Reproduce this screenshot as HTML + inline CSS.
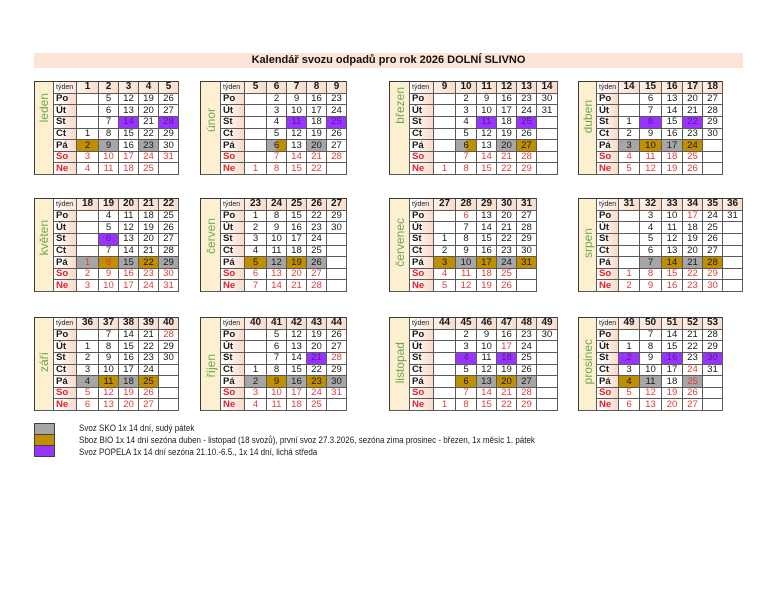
<!DOCTYPE html>
<html><head><meta charset="utf-8">
<style>
body{margin:0;width:765px;height:590px;background:#fff;position:relative;overflow:hidden;font-family:"Liberation Sans",sans-serif;}
.title{position:absolute;left:34px;top:53px;width:709px;height:15px;background:#fce4d6;font-weight:bold;font-size:11px;text-align:center;line-height:15px;color:#111;}
.blk{position:absolute;display:grid;grid-template-rows:repeat(8,11.625px);border-left:1px solid #3a3a3a;border-top:1px solid #3a3a3a;}
.blk>i{font-style:normal;box-sizing:border-box;border-right:1px solid #5a5a5a;border-bottom:1px solid #5a5a5a;display:flex;align-items:center;justify-content:center;font-size:9.6px;line-height:1;color:#1a1a1a;background:#fff;overflow:hidden;white-space:nowrap;}
.blk>i.m{grid-row:1/9;grid-column:1;background:#fdf0d0;}
.m span{writing-mode:vertical-rl;transform:rotate(180deg);color:#6aa84f;font-size:12px;}
.blk>i.t{font-size:7px;justify-content:flex-start;padding-left:2px;background:linear-gradient(90deg,#fff,#fbe3d5);}
.blk>i.h{font-weight:bold;font-size:10px;background:linear-gradient(90deg,#fdf0e8,#f9dccb);}
.blk>i.d{font-weight:bold;font-size:9.6px;justify-content:flex-start;padding-left:2px;background:linear-gradient(90deg,#fff 15%,#f9d9c7);}
.blk>i.r{color:#e03c3c;}
.blk>i.d.r{color:#e8202a;}
.blk>i.g{background:#a6a6a6;}
.blk>i.o{background:#bf8f00;}
.blk>i.p{background:#9933ff;color:#5a1a9a;}
.blk>i.gp{background:linear-gradient(90deg,#a6a6a6 50%,#bf8f00 50%);}
.c1{left:34px;grid-template-columns:19px 23px 22px 20px 20px 20px 20px}
.c2{left:200px;grid-template-columns:20px 24px 22px 20px 20px 20px 20px}
.c3{left:389px;grid-template-columns:20px 24px 22px 21px 20px 20px 20px}
.c3.w6{grid-template-columns:20px 24px 22px 21px 20px 20px 20px 21px}
.c4{left:578px;grid-template-columns:18px 22px 21px 22px 21px 20px 20px}
.c4.w6{grid-template-columns:18px 22px 21px 22px 21px 20px 20px 20px}
.sw{position:absolute;left:34px;width:21px;height:12px;box-sizing:border-box;border:1px solid #404040;}
.lg{position:absolute;left:79px;font-size:9px;line-height:11px;color:#1a1a1a;white-space:nowrap;transform:scaleX(0.89);transform-origin:0 0;}
</style></head><body>
<div class="title">Kalendář svozu odpadů pro rok 2026 DOLNÍ SLIVNO</div>

<!-- ROW 1 -->
<div class="blk c1" style="top:81px">
<i class="m" style="padding-bottom:40px"><span>leden</span></i>
<i class="t">týden</i><i class="h">1</i><i class="h">2</i><i class="h">3</i><i class="h">4</i><i class="h">5</i>
<i class="d">Po</i><i></i><i>5</i><i>12</i><i>19</i><i>26</i>
<i class="d">Út</i><i></i><i>6</i><i>13</i><i>20</i><i>27</i>
<i class="d">St</i><i></i><i>7</i><i class="p">14</i><i>21</i><i class="p">28</i>
<i class="d">Čt</i><i>1</i><i>8</i><i>15</i><i>22</i><i>29</i>
<i class="d">Pá</i><i class="o">2</i><i class="g">9</i><i>16</i><i class="g">23</i><i>30</i>
<i class="d r">So</i><i class="r">3</i><i class="r">10</i><i class="r">17</i><i class="r">24</i><i class="r">31</i>
<i class="d r">Ne</i><i class="r">4</i><i class="r">11</i><i class="r">18</i><i class="r">25</i><i></i>
</div>

<div class="blk c2" style="top:81px">
<i class="m" style="padding-bottom:16px"><span>únor</span></i>
<i class="t">týden</i><i class="h">5</i><i class="h">6</i><i class="h">7</i><i class="h">8</i><i class="h">9</i>
<i class="d">Po</i><i></i><i>2</i><i>9</i><i>16</i><i>23</i>
<i class="d">Út</i><i></i><i>3</i><i>10</i><i>17</i><i>24</i>
<i class="d">St</i><i></i><i>4</i><i class="p">11</i><i>18</i><i class="p">25</i>
<i class="d">Čt</i><i></i><i>5</i><i>12</i><i>19</i><i>26</i>
<i class="d">Pá</i><i></i><i class="gp">6</i><i>13</i><i class="g">20</i><i>27</i>
<i class="d r">So</i><i></i><i class="r">7</i><i class="r">14</i><i class="r">21</i><i class="r">28</i>
<i class="d r">Ne</i><i class="r">1</i><i class="r">8</i><i class="r">15</i><i class="r">22</i><i></i>
</div>

<div class="blk c3 w6" style="top:81px">
<i class="m" style="padding-bottom:46px"><span>březen</span></i>
<i class="t">týden</i><i class="h">9</i><i class="h">10</i><i class="h">11</i><i class="h">12</i><i class="h">13</i><i class="h">14</i>
<i class="d">Po</i><i></i><i>2</i><i>9</i><i>16</i><i>23</i><i>30</i>
<i class="d">Út</i><i></i><i>3</i><i>10</i><i>17</i><i>24</i><i>31</i>
<i class="d">St</i><i></i><i>4</i><i class="p">11</i><i>18</i><i class="p">25</i><i></i>
<i class="d">Čt</i><i></i><i>5</i><i>12</i><i>19</i><i>26</i><i></i>
<i class="d">Pá</i><i></i><i class="gp">6</i><i>13</i><i class="g">20</i><i class="o">27</i><i></i>
<i class="d r">So</i><i></i><i class="r">7</i><i class="r">14</i><i class="r">21</i><i class="r">28</i><i></i>
<i class="d r">Ne</i><i class="r">1</i><i class="r">8</i><i class="r">15</i><i class="r">22</i><i class="r">29</i><i></i>
</div>

<div class="blk c4" style="top:81px">
<i class="m" style="padding-bottom:22px"><span>duben</span></i>
<i class="t">týden</i><i class="h">14</i><i class="h">15</i><i class="h">16</i><i class="h">17</i><i class="h">18</i>
<i class="d">Po</i><i></i><i>6</i><i>13</i><i>20</i><i>27</i>
<i class="d">Út</i><i></i><i>7</i><i>14</i><i>21</i><i>28</i>
<i class="d">St</i><i>1</i><i class="p">8</i><i>15</i><i class="p">22</i><i>29</i>
<i class="d">Čt</i><i>2</i><i>9</i><i>16</i><i>23</i><i>30</i>
<i class="d">Pá</i><i class="g">3</i><i class="o">10</i><i class="g">17</i><i class="o">24</i><i></i>
<i class="d r">So</i><i class="r">4</i><i class="r">11</i><i class="r">18</i><i class="r">25</i><i></i>
<i class="d r">Ne</i><i class="r">5</i><i class="r">12</i><i class="r">19</i><i class="r">26</i><i></i>
</div>

<!-- ROW 2 -->
<div class="blk c1" style="top:198px">
<i class="m" style="padding-bottom:15px"><span>květen</span></i>
<i class="t">týden</i><i class="h">18</i><i class="h">19</i><i class="h">20</i><i class="h">21</i><i class="h">22</i>
<i class="d">Po</i><i></i><i>4</i><i>11</i><i>18</i><i>25</i>
<i class="d">Út</i><i></i><i>5</i><i>12</i><i>19</i><i>26</i>
<i class="d">St</i><i></i><i class="p">6</i><i>13</i><i>20</i><i>27</i>
<i class="d">Čt</i><i></i><i>7</i><i>14</i><i>21</i><i>28</i>
<i class="d">Pá</i><i class="g r">1</i><i class="o r">8</i><i class="g">15</i><i class="o">22</i><i class="g">29</i>
<i class="d r">So</i><i class="r">2</i><i class="r">9</i><i class="r">16</i><i class="r">23</i><i class="r">30</i>
<i class="d r">Ne</i><i class="r">3</i><i class="r">10</i><i class="r">17</i><i class="r">24</i><i class="r">31</i>
</div>

<div class="blk c2" style="top:198px">
<i class="m" style="padding-bottom:18px"><span>červen</span></i>
<i class="t">týden</i><i class="h">23</i><i class="h">24</i><i class="h">25</i><i class="h">26</i><i class="h">27</i>
<i class="d">Po</i><i>1</i><i>8</i><i>15</i><i>22</i><i>29</i>
<i class="d">Út</i><i>2</i><i>9</i><i>16</i><i>23</i><i>30</i>
<i class="d">St</i><i>3</i><i>10</i><i>17</i><i>24</i><i></i>
<i class="d">Čt</i><i>4</i><i>11</i><i>18</i><i>25</i><i></i>
<i class="d">Pá</i><i class="o">5</i><i class="g">12</i><i class="o">19</i><i class="g">26</i><i></i>
<i class="d r">So</i><i class="r">6</i><i class="r">13</i><i class="r">20</i><i class="r">27</i><i></i>
<i class="d r">Ne</i><i class="r">7</i><i class="r">14</i><i class="r">21</i><i class="r">28</i><i></i>
</div>

<div class="blk c3" style="top:198px">
<i class="m" style="padding-bottom:5px"><span>červenec</span></i>
<i class="t">týden</i><i class="h">27</i><i class="h">28</i><i class="h">29</i><i class="h">30</i><i class="h">31</i>
<i class="d">Po</i><i></i><i class="r">6</i><i>13</i><i>20</i><i>27</i>
<i class="d">Út</i><i></i><i>7</i><i>14</i><i>21</i><i>28</i>
<i class="d">St</i><i>1</i><i>8</i><i>15</i><i>22</i><i>29</i>
<i class="d">Čt</i><i>2</i><i>9</i><i>16</i><i>23</i><i>30</i>
<i class="d">Pá</i><i class="o">3</i><i class="g">10</i><i class="o">17</i><i class="g">24</i><i class="o">31</i>
<i class="d r">So</i><i class="r">4</i><i class="r">11</i><i class="r">18</i><i class="r">25</i><i></i>
<i class="d r">Ne</i><i class="r">5</i><i class="r">12</i><i class="r">19</i><i class="r">26</i><i></i>
</div>

<div class="blk c4 w6" style="top:198px">
<i class="m" style="padding-bottom:4px"><span>srpen</span></i>
<i class="t">týden</i><i class="h">31</i><i class="h">32</i><i class="h">33</i><i class="h">34</i><i class="h">35</i><i class="h">36</i>
<i class="d">Po</i><i></i><i>3</i><i>10</i><i class="r">17</i><i>24</i><i>31</i>
<i class="d">Út</i><i></i><i>4</i><i>11</i><i>18</i><i>25</i><i></i>
<i class="d">St</i><i></i><i>5</i><i>12</i><i>19</i><i>26</i><i></i>
<i class="d">Čt</i><i></i><i>6</i><i>13</i><i>20</i><i>27</i><i></i>
<i class="d">Pá</i><i></i><i class="g">7</i><i class="o">14</i><i class="g">21</i><i class="o">28</i><i></i>
<i class="d r">So</i><i class="r">1</i><i class="r">8</i><i class="r">15</i><i class="r">22</i><i class="r">29</i><i></i>
<i class="d r">Ne</i><i class="r">2</i><i class="r">9</i><i class="r">16</i><i class="r">23</i><i class="r">30</i><i></i>
</div>

<!-- ROW 3 -->
<div class="blk c1" style="top:317px">
<i class="m" style="padding-bottom:4px"><span>září</span></i>
<i class="t">týden</i><i class="h">36</i><i class="h">37</i><i class="h">38</i><i class="h">39</i><i class="h">40</i>
<i class="d">Po</i><i></i><i>7</i><i>14</i><i>21</i><i class="r">28</i>
<i class="d">Út</i><i>1</i><i>8</i><i>15</i><i>22</i><i>29</i>
<i class="d">St</i><i>2</i><i>9</i><i>16</i><i>23</i><i>30</i>
<i class="d">Čt</i><i>3</i><i>10</i><i>17</i><i>24</i><i></i>
<i class="d">Pá</i><i class="g">4</i><i class="o">11</i><i class="g">18</i><i class="o">25</i><i></i>
<i class="d r">So</i><i class="r">5</i><i class="r">12</i><i class="r">19</i><i class="r">26</i><i></i>
<i class="d r">Ne</i><i class="r">6</i><i class="r">13</i><i class="r">20</i><i class="r">27</i><i></i>
</div>

<div class="blk c2" style="top:317px">
<i class="m" style="padding-top:4px"><span>říjen</span></i>
<i class="t">týden</i><i class="h">40</i><i class="h">41</i><i class="h">42</i><i class="h">43</i><i class="h">44</i>
<i class="d">Po</i><i></i><i>5</i><i>12</i><i>19</i><i>26</i>
<i class="d">Út</i><i></i><i>6</i><i>13</i><i>20</i><i>27</i>
<i class="d">St</i><i></i><i>7</i><i>14</i><i class="p">21</i><i class="r">28</i>
<i class="d">Čt</i><i>1</i><i>8</i><i>15</i><i>22</i><i>29</i>
<i class="d">Pá</i><i class="g">2</i><i class="o">9</i><i class="g">16</i><i class="o">23</i><i class="g">30</i>
<i class="d r">So</i><i class="r">3</i><i class="r">10</i><i class="r">17</i><i class="r">24</i><i class="r">31</i>
<i class="d r">Ne</i><i class="r">4</i><i class="r">11</i><i class="r">18</i><i class="r">25</i><i></i>
</div>

<div class="blk c3 w6" style="top:317px">
<i class="m" style="padding-bottom:2px"><span>listopad</span></i>
<i class="t">týden</i><i class="h">44</i><i class="h">45</i><i class="h">46</i><i class="h">47</i><i class="h">48</i><i class="h">49</i>
<i class="d">Po</i><i></i><i>2</i><i>9</i><i>16</i><i>23</i><i>30</i>
<i class="d">Út</i><i></i><i>3</i><i>10</i><i class="r">17</i><i>24</i><i></i>
<i class="d">St</i><i></i><i class="p">4</i><i>11</i><i class="p">18</i><i>25</i><i></i>
<i class="d">Čt</i><i></i><i>5</i><i>12</i><i>19</i><i>26</i><i></i>
<i class="d">Pá</i><i></i><i class="o">6</i><i class="g">13</i><i class="o">20</i><i class="g">27</i><i></i>
<i class="d r">So</i><i></i><i class="r">7</i><i class="r">14</i><i class="r">21</i><i class="r">28</i><i></i>
<i class="d r">Ne</i><i class="r">1</i><i class="r">8</i><i class="r">15</i><i class="r">22</i><i class="r">29</i><i></i>
</div>

<div class="blk c4" style="top:317px">
<i class="m" style="padding-bottom:5px"><span>prosinec</span></i>
<i class="t">týden</i><i class="h">49</i><i class="h">50</i><i class="h">51</i><i class="h">52</i><i class="h">53</i>
<i class="d">Po</i><i></i><i>7</i><i>14</i><i>21</i><i>28</i>
<i class="d">Út</i><i>1</i><i>8</i><i>15</i><i>22</i><i>29</i>
<i class="d">St</i><i class="p">2</i><i>9</i><i class="p">16</i><i>23</i><i class="p">30</i>
<i class="d">Čt</i><i>3</i><i>10</i><i>17</i><i class="r">24</i><i>31</i>
<i class="d">Pá</i><i class="o">4</i><i class="g">11</i><i>18</i><i class="g r">25</i><i></i>
<i class="d r">So</i><i class="r">5</i><i class="r">12</i><i class="r">19</i><i class="r">26</i><i></i>
<i class="d r">Ne</i><i class="r">6</i><i class="r">13</i><i class="r">20</i><i class="r">27</i><i></i>
</div>

<!-- LEGEND -->
<div class="sw" style="top:423px;background:#a6a6a6"></div>
<div class="sw" style="top:434px;background:#bf8f00"></div>
<div class="sw" style="top:445px;background:#9933ff"></div>
<div class="lg" style="top:423px">Svoz SKO 1x 14 dní, sudý pátek</div>
<div class="lg" style="top:435px">Sboz BIO 1x 14 dní sezóna duben - listopad (18 svozů), první svoz 27.3.2026, sezóna zima prosinec - březen, 1x měsíc 1. pátek</div>
<div class="lg" style="top:447px">Svoz POPELA 1x 14 dní sezóna 21.10.-6.5., 1x 14 dní, lichá středa</div>
</body></html>
